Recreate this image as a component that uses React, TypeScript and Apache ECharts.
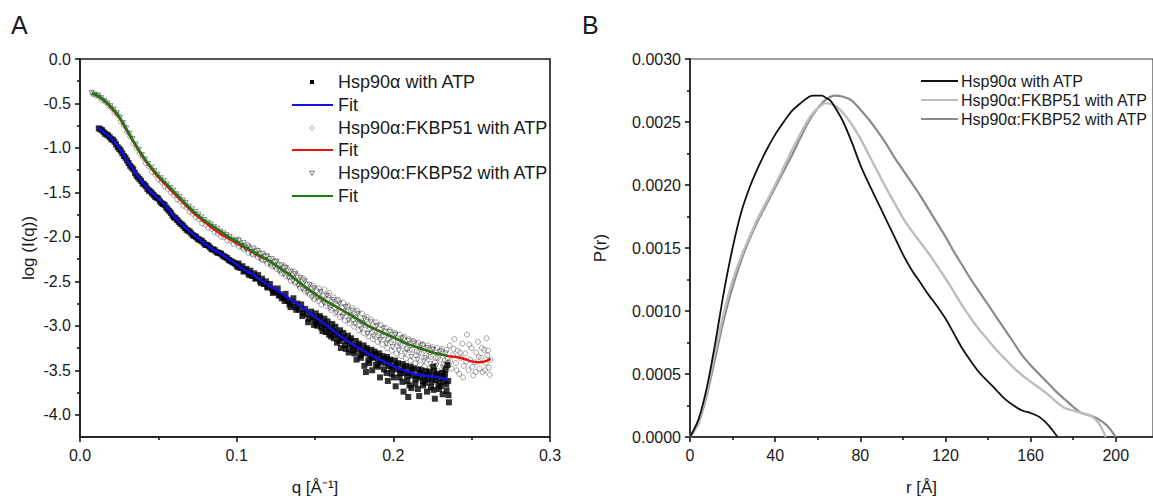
import React, { useEffect, useRef } from "react";
import * as echarts from "echarts";

// ---------- Panel A : SAXS curves, log(I(q)) vs q ----------
const qTicksA = [0, 0.1, 0.2, 0.3];
const yTicksA = [0, -0.5, -1, -1.5, -2, -2.5, -3, -3.5, -4];
const yMinorA = [-0.25, -0.75, -1.25, -1.75, -2.25, -2.75, -3.25, -3.75];

const legendA = [
  "Hsp90α with ATP",
  "Fit",
  "Hsp90α:FKBP51 with ATP",
  "Fit",
  "Hsp90α:FKBP52 with ATP",
  "Fit",
];

// Hsp90α with ATP (black squares)
const hspPoints: number[][] = [
  [0.012,-0.78],[0.013,-0.79],[0.014,-0.80],[0.015,-0.82],[0.016,-0.84],[0.017,-0.85],[0.018,-0.86],[0.019,-0.88],[0.020,-0.90],[0.021,-0.91],[0.022,-0.93],[0.023,-0.96],[0.024,-0.99],[0.025,-1.01],[0.026,-1.03],[0.027,-1.06],[0.028,-1.09],[0.029,-1.11],[0.030,-1.14],[0.031,-1.17],[0.032,-1.20],[0.033,-1.22],[0.034,-1.24],[0.035,-1.28],[0.036,-1.31],[0.037,-1.33],[0.038,-1.35],[0.039,-1.37],[0.040,-1.40],[0.041,-1.41],[0.042,-1.43],[0.043,-1.46],[0.044,-1.48],[0.045,-1.49],[0.046,-1.51],[0.047,-1.53],[0.048,-1.55],[0.049,-1.56],[0.050,-1.57],[0.051,-1.60],[0.052,-1.62],[0.053,-1.63],[0.054,-1.64],[0.055,-1.67],[0.056,-1.69],[0.057,-1.71],[0.058,-1.73],[0.059,-1.76],[0.060,-1.78],[0.061,-1.79],[0.062,-1.81],[0.063,-1.83],[0.064,-1.85],[0.065,-1.86],[0.066,-1.88],[0.067,-1.90],[0.068,-1.92],[0.069,-1.93],[0.070,-1.94],[0.071,-1.96],[0.072,-1.98],[0.073,-1.99],[0.074,-2.00],[0.075,-2.02],[0.076,-2.03],[0.077,-2.04],[0.078,-2.05],[0.079,-2.07],[0.080,-2.09],[0.081,-2.09],[0.082,-2.10],[0.083,-2.12],[0.084,-2.14],[0.085,-2.14],[0.086,-2.15],[0.087,-2.17],[0.088,-2.18],[0.089,-2.18],[0.090,-2.19],[0.091,-2.21],[0.092,-2.22],[0.093,-2.23],[0.094,-2.24],[0.095,-2.26],[0.096,-2.27],[0.097,-2.28],[0.098,-2.29],[0.099,-2.30],
  [0.100,-2.32],[0.1012,-2.30],[0.1025,-2.35],[0.1037,-2.33],[0.105,-2.38],[0.1062,-2.36],[0.1075,-2.41],[0.1087,-2.38],[0.110,-2.44],[0.1112,-2.41],[0.1125,-2.46],[0.1137,-2.43],[0.115,-2.50],[0.1162,-2.47],[0.1175,-2.53],[0.1187,-2.50],[0.120,-2.57],[0.1212,-2.53],[0.1225,-2.58],[0.1237,-2.61],[0.125,-2.62],[0.1262,-2.58],[0.1275,-2.65],[0.1287,-2.69],[0.130,-2.68],[0.1312,-2.64],[0.1325,-2.72],[0.1337,-2.76],[0.135,-2.73],[0.1362,-2.69],[0.1375,-2.79],[0.1387,-2.75],[0.140,-2.82],[0.1412,-2.76],[0.1425,-2.86],[0.1437,-2.81],[0.145,-2.87],[0.1462,-2.92],[0.1475,-2.84],[0.1487,-2.90],
  [0.1006,-2.34],[0.1044,-2.39],[0.1081,-2.43],[0.1119,-2.47],[0.1156,-2.52],[0.1194,-2.56],[0.1231,-2.63],[0.1269,-2.66],[0.1306,-2.72],[0.1344,-2.79],[0.1381,-2.82],[0.1419,-2.89],[0.1456,-2.96],[0.1494,-2.99],
  [0.150,-2.93],[0.1505,-2.86],[0.1515,-3.00],[0.1525,-2.94],[0.153,-2.89],[0.154,-3.02],[0.155,-2.97],[0.156,-2.92],[0.157,-3.07],[0.1575,-3.00],[0.158,-2.95],[0.159,-3.10],[0.160,-3.04],[0.161,-2.98],[0.162,-3.14],[0.1625,-3.07],[0.163,-3.01],[0.164,-3.19],[0.165,-3.11],[0.166,-3.05],[0.1665,-3.25],[0.167,-3.14],[0.168,-3.08],[0.169,-3.22],[0.170,-3.17],[0.171,-3.11],[0.1715,-3.30],[0.172,-3.20],[0.173,-3.14],[0.174,-3.28],[0.175,-3.23],[0.176,-3.17],[0.1765,-3.38],[0.177,-3.26],[0.178,-3.20],[0.179,-3.33],[0.180,-3.28],[0.181,-3.22],[0.1815,-3.45],[0.182,-3.31],[0.183,-3.25],[0.184,-3.39],[0.185,-3.33],[0.186,-3.27],[0.1865,-3.50],[0.187,-3.36],[0.188,-3.29],[0.189,-3.44],[0.190,-3.38],[0.191,-3.31],[0.1915,-3.58],[0.192,-3.41],[0.193,-3.34],[0.194,-3.49],[0.195,-3.42],[0.196,-3.35],[0.1965,-3.62],[0.197,-3.45],[0.198,-3.38],[0.199,-3.54],[0.200,-3.46],[0.201,-3.39],[0.2015,-3.68],[0.202,-3.49],[0.203,-3.42],[0.204,-3.58],[0.205,-3.50],[0.206,-3.43],[0.2065,-3.74],[0.207,-3.53],[0.208,-3.45],[0.209,-3.62],[0.210,-3.53],[0.211,-3.46],[0.2115,-3.70],[0.212,-3.56],[0.213,-3.48],[0.214,-3.65],[0.215,-3.56],[0.216,-3.49],[0.2165,-3.79],[0.217,-3.58],[0.218,-3.50],[0.219,-3.67],[0.220,-3.57],[0.221,-3.51],[0.2215,-3.74],[0.222,-3.60],[0.223,-3.52],[0.224,-3.69],[0.225,-3.58],[0.226,-3.51],[0.2265,-3.82],[0.227,-3.61],[0.228,-3.54],[0.229,-3.71],[0.230,-3.59],[0.231,-3.53],[0.2315,-3.77],[0.232,-3.63],[0.233,-3.55],[0.234,-3.73],[0.235,-3.62],[0.2355,-3.86],[0.2345,-3.44],[0.1825,-3.52],[0.2255,-3.46],[0.2095,-3.80],
  [0.1508,-2.97],[0.1533,-2.91],[0.1548,-3.06],[0.1562,-2.99],[0.1588,-3.03],[0.1603,-3.12],[0.1617,-3.06],[0.1642,-3.09],[0.1657,-3.17],[0.1683,-3.13],[0.1698,-3.26],[0.1722,-3.17],[0.1737,-3.23],[0.1752,-3.31],[0.1778,-3.23],[0.1793,-3.36],[0.1808,-3.30],[0.1833,-3.27],[0.1847,-3.42],[0.1862,-3.35],[0.1888,-3.32],[0.1903,-3.46],[0.1918,-3.39],[0.1942,-3.37],[0.1957,-3.53],[0.1972,-3.40],[0.1988,-3.48],[0.2003,-3.58],[0.2018,-3.44],[0.2043,-3.53],[0.2058,-3.63],[0.2072,-3.48],[0.2088,-3.56],[0.2103,-3.67],[0.2118,-3.50],[0.2142,-3.60],[0.2157,-3.71],[0.2172,-3.53],[0.2188,-3.62],[0.2203,-3.64],[0.2218,-3.55],[0.2243,-3.63],[0.2257,-3.72],[0.2272,-3.56],[0.2288,-3.65],[0.2302,-3.68],[0.2318,-3.57],[0.2338,-3.66],[0.2352,-3.78],[0.2333,-3.49]
];

const hspFit: number[][] = [
  [0.0113,-0.77],[0.015,-0.82],[0.02,-0.89],[0.025,-1.0],[0.03,-1.14],[0.035,-1.27],[0.04,-1.39],[0.045,-1.49],[0.05,-1.57],[0.055,-1.66],[0.06,-1.77],[0.065,-1.86],[0.07,-1.94],[0.075,-2.01],[0.08,-2.08],[0.085,-2.14],[0.09,-2.19],[0.095,-2.25],[0.1,-2.31],[0.105,-2.37],[0.11,-2.42],[0.115,-2.48],[0.12,-2.54],[0.125,-2.59],[0.13,-2.65],[0.135,-2.71],[0.14,-2.77],[0.145,-2.83],[0.15,-2.9],[0.155,-2.96],[0.16,-3.03],[0.165,-3.1],[0.17,-3.16],[0.175,-3.22],[0.18,-3.27],[0.185,-3.32],[0.19,-3.37],[0.195,-3.41],[0.2,-3.45],[0.205,-3.49],[0.21,-3.52],[0.215,-3.55],[0.22,-3.56],[0.225,-3.57],[0.23,-3.58],[0.235,-3.61]
];

// Hsp90α:FKBP51 with ATP (open circles)
const fkbp51Points: number[][] = [
  [0.008,-0.39],[0.010,-0.41],[0.012,-0.42],[0.014,-0.46],[0.016,-0.48],[0.018,-0.52],[0.020,-0.55],[0.022,-0.60],[0.024,-0.63],[0.026,-0.70],[0.028,-0.75],[0.030,-0.82],[0.032,-0.87],[0.034,-0.95],[0.036,-1.00],[0.038,-1.06],[0.040,-1.11],[0.042,-1.17],[0.044,-1.21],[0.046,-1.27],[0.048,-1.30],[0.050,-1.35],[0.052,-1.38],[0.054,-1.43],[0.056,-1.46],[0.058,-1.50],[0.060,-1.53],[0.062,-1.58],[0.064,-1.60],[0.066,-1.65],[0.068,-1.67],[0.070,-1.72],[0.072,-1.74],[0.074,-1.78],[0.076,-1.80],[0.078,-1.85],[0.080,-1.86],[0.082,-1.90],[0.084,-1.91],[0.086,-1.95],[0.088,-1.96],[0.090,-2.00],[0.092,-2.00],[0.094,-2.04],[0.096,-2.04],[0.098,-2.08],
  [0.100,-2.07],[0.1015,-2.11],[0.103,-2.08],[0.1045,-2.14],[0.106,-2.12],[0.1075,-2.18],[0.109,-2.14],[0.1105,-2.20],[0.112,-2.17],[0.1135,-2.23],[0.115,-2.19],[0.1165,-2.26],[0.118,-2.22],[0.1195,-2.30],[0.121,-2.25],[0.1225,-2.33],[0.124,-2.28],[0.1255,-2.36],[0.127,-2.31],[0.1285,-2.41],[0.130,-2.34],[0.1315,-2.44],[0.133,-2.37],[0.1345,-2.49],[0.136,-2.41],[0.1375,-2.52],[0.139,-2.44],[0.1405,-2.57],[0.142,-2.48],[0.1435,-2.61],[0.145,-2.53],[0.1465,-2.65],[0.148,-2.57],[0.1495,-2.70],
  [0.1008,-2.03],[0.1038,-2.12],[0.1068,-2.09],[0.1098,-2.19],[0.1128,-2.15],[0.1158,-2.25],[0.1188,-2.21],[0.1218,-2.31],[0.1248,-2.27],[0.1278,-2.38],[0.1308,-2.33],[0.1338,-2.45],[0.1368,-2.39],[0.1398,-2.53],[0.1428,-2.47],[0.1458,-2.60],[0.1488,-2.55],
  [0.151,-2.60],[0.152,-2.72],[0.153,-2.64],[0.154,-2.76],[0.155,-2.66],[0.156,-2.59],[0.157,-2.78],[0.158,-2.70],[0.159,-2.63],[0.160,-2.82],[0.161,-2.73],[0.162,-2.68],[0.163,-2.86],[0.164,-2.77],[0.165,-2.71],[0.166,-2.90],[0.167,-2.80],[0.168,-2.74],[0.169,-2.94],[0.170,-2.84],[0.171,-2.77],[0.172,-2.97],[0.173,-2.88],[0.174,-2.80],[0.175,-3.01],[0.176,-2.91],[0.177,-2.83],[0.178,-3.05],[0.179,-2.95],[0.180,-2.86],[0.181,-3.08],[0.182,-2.99],[0.183,-2.90],[0.184,-3.12],[0.185,-3.02],[0.186,-2.93],[0.187,-3.15],[0.188,-3.05],[0.189,-2.96],[0.190,-3.18],[0.191,-3.08],[0.192,-2.99],[0.193,-3.21],[0.194,-3.11],[0.195,-3.02],[0.196,-3.25],[0.197,-3.14],[0.198,-3.05],[0.199,-3.28],[0.200,-3.16],[0.201,-3.08],[0.202,-3.31],[0.203,-3.19],[0.204,-3.10],[0.205,-3.34],[0.206,-3.22],[0.207,-3.12],[0.208,-3.37],[0.209,-3.25],[0.210,-3.15],[0.211,-3.39],[0.212,-3.27],[0.213,-3.17],[0.214,-3.42],[0.215,-3.29],[0.216,-3.19],[0.217,-3.44],[0.218,-3.31],[0.219,-3.21],[0.220,-3.46],[0.221,-3.33],[0.222,-3.22],[0.223,-3.48],[0.224,-3.35],[0.225,-3.24],[0.226,-3.50],[0.227,-3.36],[0.228,-3.25],[0.229,-3.51],[0.230,-3.38],[0.231,-3.26],[0.232,-3.52],[0.233,-3.39],[0.234,-3.27],[0.235,-3.45],
  [0.1505,-2.67],[0.1525,-2.58],[0.1545,-2.70],[0.1565,-2.74],[0.1585,-2.66],[0.1605,-2.77],[0.1625,-2.80],[0.1645,-2.72],[0.1665,-2.84],[0.1685,-2.86],[0.1705,-2.79],[0.1725,-2.90],[0.1745,-2.93],[0.1765,-2.85],[0.1785,-2.99],[0.1805,-2.97],[0.1825,-2.93],[0.1845,-3.04],[0.1865,-3.07],[0.1885,-3.00],[0.1905,-3.11],[0.1925,-3.12],[0.1945,-3.06],[0.1965,-3.16],[0.1985,-3.18],[0.2005,-3.10],[0.2025,-3.22],[0.2045,-3.21],[0.2065,-3.14],[0.2085,-3.26],[0.2105,-3.27],[0.2125,-3.18],[0.2145,-3.33],[0.2165,-3.30],[0.2185,-3.21],[0.2205,-3.36],[0.2225,-3.34],[0.2245,-3.26],[0.2265,-3.41],[0.2285,-3.36],[0.2305,-3.28],[0.2325,-3.43],[0.2345,-3.36],
  [0.236,-3.22],[0.237,-3.48],[0.238,-3.33],[0.239,-3.15],[0.240,-3.42],[0.241,-3.28],[0.242,-3.54],[0.243,-3.36],[0.244,-3.20],[0.245,-3.45],[0.246,-3.31],[0.247,-3.10],[0.248,-3.50],[0.249,-3.38],[0.250,-3.25],[0.251,-3.56],[0.252,-3.41],[0.253,-3.30],[0.254,-3.18],[0.255,-3.48],[0.256,-3.36],[0.257,-3.52],[0.258,-3.27],[0.259,-3.42],[0.260,-3.33],[0.261,-3.47],[0.262,-3.38],
  [0.2365,-3.40],[0.2385,-3.26],[0.2405,-3.50],[0.2425,-3.30],[0.2445,-3.58],[0.2465,-3.40],[0.2485,-3.21],[0.2505,-3.46],[0.2525,-3.52],[0.2545,-3.35],[0.2565,-3.25],[0.2585,-3.50],[0.2605,-3.28],[0.2615,-3.55],[0.2595,-3.14]
];

const fkbp51Fit: number[][] = [
  [0.0075,-0.39],[0.01,-0.4],[0.015,-0.46],[0.02,-0.55],[0.025,-0.66],[0.03,-0.81],[0.035,-0.96],[0.04,-1.10],[0.045,-1.22],[0.05,-1.33],[0.055,-1.42],[0.06,-1.51],[0.065,-1.60],[0.07,-1.69],[0.075,-1.77],[0.08,-1.84],[0.085,-1.91],[0.09,-1.97],[0.095,-2.02],[0.1,-2.07],[0.105,-2.12],[0.11,-2.17],[0.115,-2.22],[0.12,-2.26],[0.125,-2.32],[0.13,-2.38],[0.135,-2.44],[0.14,-2.51],[0.145,-2.58],[0.15,-2.64],[0.155,-2.7],[0.16,-2.75],[0.165,-2.8],[0.17,-2.85],[0.175,-2.9],[0.18,-2.96],[0.185,-3.01],[0.19,-3.05],[0.195,-3.09],[0.2,-3.13],[0.205,-3.17],[0.21,-3.21],[0.215,-3.24],[0.22,-3.27],[0.225,-3.3],[0.23,-3.32],[0.235,-3.34],[0.24,-3.35],[0.245,-3.37],[0.25,-3.4],[0.255,-3.41],[0.26,-3.39],[0.262,-3.37]
];

// Hsp90α:FKBP52 with ATP (open triangles)
const fkbp52Points: number[][] = [
  [0.0075,-0.38],[0.0095,-0.40],[0.0115,-0.41],[0.0135,-0.44],[0.0155,-0.47],[0.0175,-0.50],[0.0195,-0.53],[0.0215,-0.57],[0.0235,-0.61],[0.0255,-0.66],[0.0275,-0.72],[0.0295,-0.78],[0.0315,-0.84],[0.0335,-0.90],[0.0355,-0.96],[0.0375,-1.02],[0.0395,-1.08],[0.0415,-1.13],[0.0435,-1.18],[0.0455,-1.22],[0.0475,-1.26],[0.0495,-1.30],[0.0515,-1.34],[0.0535,-1.37],[0.0555,-1.41],[0.0575,-1.45],[0.0595,-1.48],[0.0615,-1.52],[0.0635,-1.55],[0.0655,-1.59],[0.0675,-1.62],[0.0695,-1.66],[0.0715,-1.69],[0.0735,-1.72],[0.0755,-1.75],[0.0775,-1.78],[0.0795,-1.81],[0.0815,-1.84],[0.0835,-1.86],[0.0855,-1.89],[0.0875,-1.91],[0.0895,-1.94],[0.0915,-1.96],[0.0935,-1.98],[0.0955,-2.00],[0.0975,-2.03],[0.0995,-2.05],
  [0.1015,-2.04],[0.103,-2.10],[0.1045,-2.07],[0.106,-2.14],[0.1075,-2.11],[0.109,-2.17],[0.1105,-2.13],[0.112,-2.20],[0.1135,-2.16],[0.115,-2.24],[0.1165,-2.19],[0.118,-2.27],[0.1195,-2.22],[0.121,-2.30],[0.1225,-2.25],[0.124,-2.34],[0.1255,-2.28],[0.127,-2.38],[0.1285,-2.32],[0.130,-2.42],[0.1315,-2.35],[0.133,-2.46],[0.1345,-2.39],[0.136,-2.50],[0.1375,-2.42],[0.139,-2.55],[0.1405,-2.46],[0.142,-2.59],[0.1435,-2.50],[0.145,-2.63],[0.1465,-2.54],[0.148,-2.68],[0.1495,-2.58],
  [0.1515,-2.69],[0.1535,-2.62],[0.1555,-2.74],[0.1575,-2.66],[0.1595,-2.80],[0.1615,-2.71],[0.1635,-2.85],[0.1655,-2.75],[0.1675,-2.90],[0.1695,-2.79],[0.1715,-2.94],[0.1735,-2.83],[0.1755,-2.98],[0.1775,-2.87],[0.1795,-3.04],[0.1815,-2.92],[0.1835,-3.09],[0.1855,-2.96],[0.1875,-3.12],[0.1895,-3.00],[0.1915,-3.16],[0.1935,-3.03],[0.1955,-3.20],[0.1975,-3.07],[0.1995,-3.24],[0.2015,-3.10],[0.2035,-3.28],[0.2055,-3.14],[0.2075,-3.31],[0.2095,-3.17],[0.2115,-3.35],[0.2135,-3.20],[0.2155,-3.38],[0.2175,-3.22],[0.2195,-3.40],[0.2215,-3.25],[0.2235,-3.43],[0.2255,-3.27],[0.2275,-3.45],[0.2295,-3.29],[0.2315,-3.47],[0.2335,-3.31],[0.235,-3.42]
];

const fkbp52Fit: number[][] = [
  [0.0075,-0.39],[0.01,-0.4],[0.015,-0.46],[0.02,-0.54],[0.025,-0.65],[0.03,-0.8],[0.035,-0.95],[0.04,-1.09],[0.045,-1.21],[0.05,-1.31],[0.055,-1.4],[0.06,-1.49],[0.065,-1.58],[0.07,-1.67],[0.075,-1.75],[0.08,-1.82],[0.085,-1.88],[0.09,-1.94],[0.095,-2.0],[0.1,-2.05],[0.105,-2.11],[0.11,-2.16],[0.115,-2.21],[0.12,-2.26],[0.125,-2.32],[0.13,-2.38],[0.135,-2.44],[0.14,-2.51],[0.145,-2.58],[0.15,-2.64],[0.155,-2.7],[0.16,-2.75],[0.165,-2.8],[0.17,-2.85],[0.175,-2.9],[0.18,-2.96],[0.185,-3.01],[0.19,-3.05],[0.195,-3.09],[0.2,-3.13],[0.205,-3.17],[0.21,-3.21],[0.215,-3.24],[0.22,-3.27],[0.225,-3.3],[0.23,-3.32],[0.235,-3.34]
];

// ---------- Panel B : P(r) distance distributions ----------
const rTicksB = [0, 40, 80, 120, 160, 200];
const rMinorB = [20, 60, 100, 140, 180];
const legendB = ["Hsp90α with ATP", "Hsp90α:FKBP51 with ATP", "Hsp90α:FKBP52 with ATP"];

const prHsp: number[][] = [
  [0,0],[4,0.00014],[8,0.0004],[12,0.00076],[16,0.00116],[20,0.0015],[24,0.00178],[28,0.00198],[32,0.00214],[36,0.00228],[40,0.0024],[44,0.0025],[48,0.00259],[52,0.00265],[56,0.0027],[58,0.00271],[62,0.00271],[64,0.00269],[66,0.00267],[68,0.00262],[72,0.0025],[76,0.00234],[80,0.00216],[84,0.00201],[88,0.00187],[92,0.00173],[96,0.00159],[100,0.00145],[104,0.00133],[108,0.00123],[112,0.00113],[116,0.00104],[120,0.00094],[124,0.00082],[128,0.0007],[132,0.0006],[136,0.00051],[140,0.00044],[144,0.00037],[148,0.0003],[152,0.00025],[156,0.00021],[160,0.00019],[164,0.00016],[168,0.0001],[170,0.00006],[172.7,0]
];

const prFkbp51: number[][] = [
  [0,0],[4,0.00012],[8,0.00037],[12,0.00069],[16,0.00099],[20,0.00124],[24,0.00143],[28,0.00159],[32,0.00174],[36,0.00187],[40,0.002],[44,0.00214],[48,0.00228],[52,0.00241],[56,0.00253],[60,0.00261],[64,0.00265],[68,0.00263],[72,0.00257],[76,0.00248],[80,0.00237],[84,0.00224],[88,0.00211],[92,0.00198],[96,0.00186],[100,0.00174],[104,0.00164],[108,0.00155],[112,0.00146],[116,0.00136],[120,0.00126],[124,0.00115],[128,0.00104],[132,0.00094],[136,0.00085],[140,0.00077],[144,0.00069],[148,0.00062],[152,0.00055],[156,0.00049],[160,0.00044],[164,0.00039],[168,0.00034],[172,0.00028],[176,0.00023],[180,0.00021],[184,0.00019],[188,0.00017],[192,0.00011],[195.3,0]
];

const prFkbp52: number[][] = [
  [0,0],[4,0.00011],[8,0.00034],[12,0.00064],[16,0.00094],[20,0.00119],[24,0.0014],[28,0.00157],[32,0.00172],[36,0.00185],[40,0.00198],[44,0.00211],[48,0.00224],[52,0.00238],[56,0.00251],[60,0.00261],[64,0.00268],[68,0.00271],[72,0.0027],[76,0.00267],[80,0.0026],[84,0.00252],[88,0.00243],[92,0.00233],[96,0.00222],[100,0.00212],[104,0.00202],[108,0.00192],[112,0.00181],[116,0.0017],[120,0.00159],[124,0.00147],[128,0.00136],[132,0.00125],[136,0.00115],[140,0.00105],[144,0.00095],[148,0.00085],[152,0.00075],[156,0.00065],[160,0.00057],[164,0.0005],[168,0.00043],[172,0.00036],[176,0.0003],[180,0.00024],[184,0.00019],[188,0.00017],[192,0.00014],[196,0.00009],[200,0]
];

const FONT = "'Liberation Sans', Arial, Helvetica, sans-serif";
const INK = "#1a1a1a";

export default function App() {
  const ref = useRef<HTMLDivElement>(null);

  useEffect(() => {
    if (!ref.current) return;
    const chart = echarts.init(ref.current, undefined, { renderer: "svg" });

    const gridA = { left: 80, top: 59, width: 470, height: 378 };
    const gridB = { left: 690, top: 59, width: 464, height: 378 };
    const rMaxB = 217.5;

    const labelStyle = { color: INK, fontSize: 16, fontFamily: FONT };
    const nameStyle = { color: INK, fontSize: 17, fontFamily: FONT };
    const lineStyle = { color: INK, width: 1.6 };

    const legendAY = [82, 105, 128, 150, 173, 196];
    const legendBY = [81, 100, 119];
    const legendBColors = ["#111111", "#bdbdbd", "#8a8a8a"];
    const legendAColors = ["", "#1010e0", "", "#e81010", "", "#1a7a1a"];

    const graphics: any[] = [
      { type: "text", left: 11, top: 12, style: { text: "A", fontSize: 25, fontFamily: FONT, fill: INK } },
      { type: "text", left: 582, top: 12, style: { text: "B", fontSize: 25, fontFamily: FONT, fill: INK } },
    ];
    legendA.forEach((t, i) => {
      const y = legendAY[i];
      if (i === 1 || i === 3 || i === 5) {
        graphics.push({ type: "line", shape: { x1: 292, y1: y, x2: 333, y2: y }, style: { stroke: legendAColors[i], lineWidth: 2.2 } });
      } else if (i === 0) {
        graphics.push({ type: "rect", shape: { x: 310, y: y - 2, width: 4, height: 4 }, style: { fill: "#000" } });
      } else if (i === 2) {
        graphics.push({ type: "circle", shape: { cx: 312, cy: y, r: 2 }, style: { fill: "none", stroke: "#999", lineWidth: 0.8 } });
      } else {
        graphics.push({ type: "polygon", shape: { points: [[309.5, y - 1.8], [314.5, y - 1.8], [312, y + 2.4]] }, style: { fill: "none", stroke: "#555", lineWidth: 0.8 } });
      }
      graphics.push({ type: "text", x: 338, y, style: { text: t, fontSize: 18, fontFamily: FONT, fill: INK, verticalAlign: "middle", align: "left" } });
    });
    legendB.forEach((t, i) => {
      const y = legendBY[i];
      graphics.push({ type: "line", shape: { x1: 921, y1: y, x2: 958, y2: y }, style: { stroke: legendBColors[i], lineWidth: 2.2 } });
      graphics.push({ type: "text", x: 961, y, style: { text: t, fontSize: 16, fontFamily: FONT, fill: INK, verticalAlign: "middle", align: "left" } });
    });

    const option: any = {
      animation: false,
      backgroundColor: "#ffffff",
      grid: [
        { ...gridA, show: true, borderColor: INK, borderWidth: 1.6, backgroundColor: "transparent" },
        { ...gridB, show: true, borderColor: "#444", borderWidth: 1.2, backgroundColor: "transparent" },
      ],
      xAxis: [
        {
          type: "value", gridIndex: 0, position: "bottom", min: 0, max: 0.3, interval: 0.1,
          name: "q [Å⁻¹]", nameLocation: "middle", nameGap: 42, nameTextStyle: nameStyle,
          axisLine: { show: true, onZero: false, lineStyle },
          axisTick: { show: true, inside: false, length: 5, lineStyle },
          minorTick: { show: true, splitNumber: 2, length: 3, lineStyle },
          splitLine: { show: false }, minorSplitLine: { show: false },
          axisLabel: { ...labelStyle, margin: 10, formatter: (v: number) => v.toFixed(1),
            customValues: qTicksA },
        },
        {
          type: "value", gridIndex: 1, position: "bottom", min: 0, max: rMaxB,
          name: "r [Å]", nameLocation: "middle", nameGap: 42, nameTextStyle: nameStyle,
          axisLine: { show: true, onZero: false, lineStyle },
          axisTick: { show: true, length: 5, lineStyle, customValues: rTicksB },
          splitLine: { show: false },
          axisLabel: { ...labelStyle, margin: 10, customValues: rTicksB,
            formatter: (v: number) => (Math.abs(v % 40) < 1e-6 ? String(Math.round(v)) : "") },
        },
        {
          type: "value", gridIndex: 1, position: "bottom", min: 0, max: rMaxB,
          axisLine: { show: false },
          axisTick: { show: true, length: 3, lineStyle, customValues: rMinorB },
          axisLabel: { show: false, customValues: rMinorB },
          splitLine: { show: false },
        },
      ],
      yAxis: [
        {
          type: "value", gridIndex: 0, position: "left", min: -4.25, max: 0,
          name: "log (I(q))", nameLocation: "middle", nameGap: 43, nameTextStyle: nameStyle,
          axisLine: { show: true, onZero: false, lineStyle },
          axisTick: { show: true, length: 5, lineStyle, customValues: yTicksA },
          splitLine: { show: false },
          axisLabel: { ...labelStyle, margin: 9, customValues: yTicksA,
            formatter: (v: number) => (Math.abs(v * 2 - Math.round(v * 2)) < 1e-6 ? (v === 0 ? "0.0" : v.toFixed(1)) : "") },
        },
        {
          type: "value", gridIndex: 0, position: "left", min: -4.25, max: 0,
          axisLine: { show: false },
          axisTick: { show: true, length: 3, lineStyle, customValues: yMinorA },
          axisLabel: { show: false, customValues: yMinorA },
          splitLine: { show: false },
        },
        {
          type: "value", gridIndex: 1, position: "left", min: 0, max: 0.003, interval: 0.0005,
          name: "P(r)", nameLocation: "middle", nameGap: 81, nameTextStyle: nameStyle,
          axisLine: { show: true, onZero: false, lineStyle },
          axisTick: { show: true, length: 5, lineStyle },
          minorTick: { show: true, splitNumber: 2, length: 3, lineStyle },
          splitLine: { show: false }, minorSplitLine: { show: false },
          axisLabel: { ...labelStyle, margin: 9, formatter: (v: number) => v.toFixed(4) },
        },
      ],
      graphic: graphics,
      series: [
        {
          name: "Hsp90α:FKBP51 with ATP", type: "scatter", xAxisIndex: 0, yAxisIndex: 0,
          data: fkbp51Points, symbol: "circle", symbolSize: 5,
          itemStyle: { color: "rgba(255,255,255,0)", borderColor: "#5a5a5a", borderWidth: 0.7 },
        },
        {
          name: "Hsp90α:FKBP52 with ATP", type: "scatter", xAxisIndex: 0, yAxisIndex: 0,
          data: fkbp52Points, symbol: "triangle", symbolSize: 5, symbolRotate: 180,
          itemStyle: { color: "rgba(255,255,255,0)", borderColor: "#333", borderWidth: 0.7 },
        },
        {
          name: "Hsp90α with ATP", type: "scatter", xAxisIndex: 0, yAxisIndex: 0,
          data: hspPoints, symbol: "rect", symbolSize: 6,
          itemStyle: { color: "#000" },
        },
        {
          name: "Fit Hsp90α", type: "line", xAxisIndex: 0, yAxisIndex: 0, data: hspFit,
          smooth: 0.3, showSymbol: false, lineStyle: { color: "#1010e0", width: 2.6 },
        },
        {
          name: "Fit FKBP51", type: "line", xAxisIndex: 0, yAxisIndex: 0, data: fkbp51Fit,
          smooth: 0.3, showSymbol: false, lineStyle: { color: "#e81010", width: 2.4 },
        },
        {
          name: "Fit FKBP52", type: "line", xAxisIndex: 0, yAxisIndex: 0, data: fkbp52Fit,
          smooth: 0.3, showSymbol: false, lineStyle: { color: "#1a7a1a", width: 2.4 },
        },
        {
          name: legendB[2], type: "line", xAxisIndex: 1, yAxisIndex: 2, data: prFkbp52,
          smooth: 0.3, showSymbol: false, lineStyle: { color: "#8a8a8a", width: 2.2 },
        },
        {
          name: legendB[1], type: "line", xAxisIndex: 1, yAxisIndex: 2, data: prFkbp51,
          smooth: 0.3, showSymbol: false, lineStyle: { color: "#bdbdbd", width: 2.4 },
        },
        {
          name: legendB[0], type: "line", xAxisIndex: 1, yAxisIndex: 2, data: prHsp,
          smooth: 0.3, showSymbol: false, lineStyle: { color: "#111111", width: 1.8 },
        },
      ],
    };

    chart.setOption(option);
    return () => chart.dispose();
  }, []);

  return (
    <div
      ref={ref}
      style={{ position: "fixed", left: 0, top: 0, width: 1153, height: 503, background: "#fff" }}
    />
  );
}
